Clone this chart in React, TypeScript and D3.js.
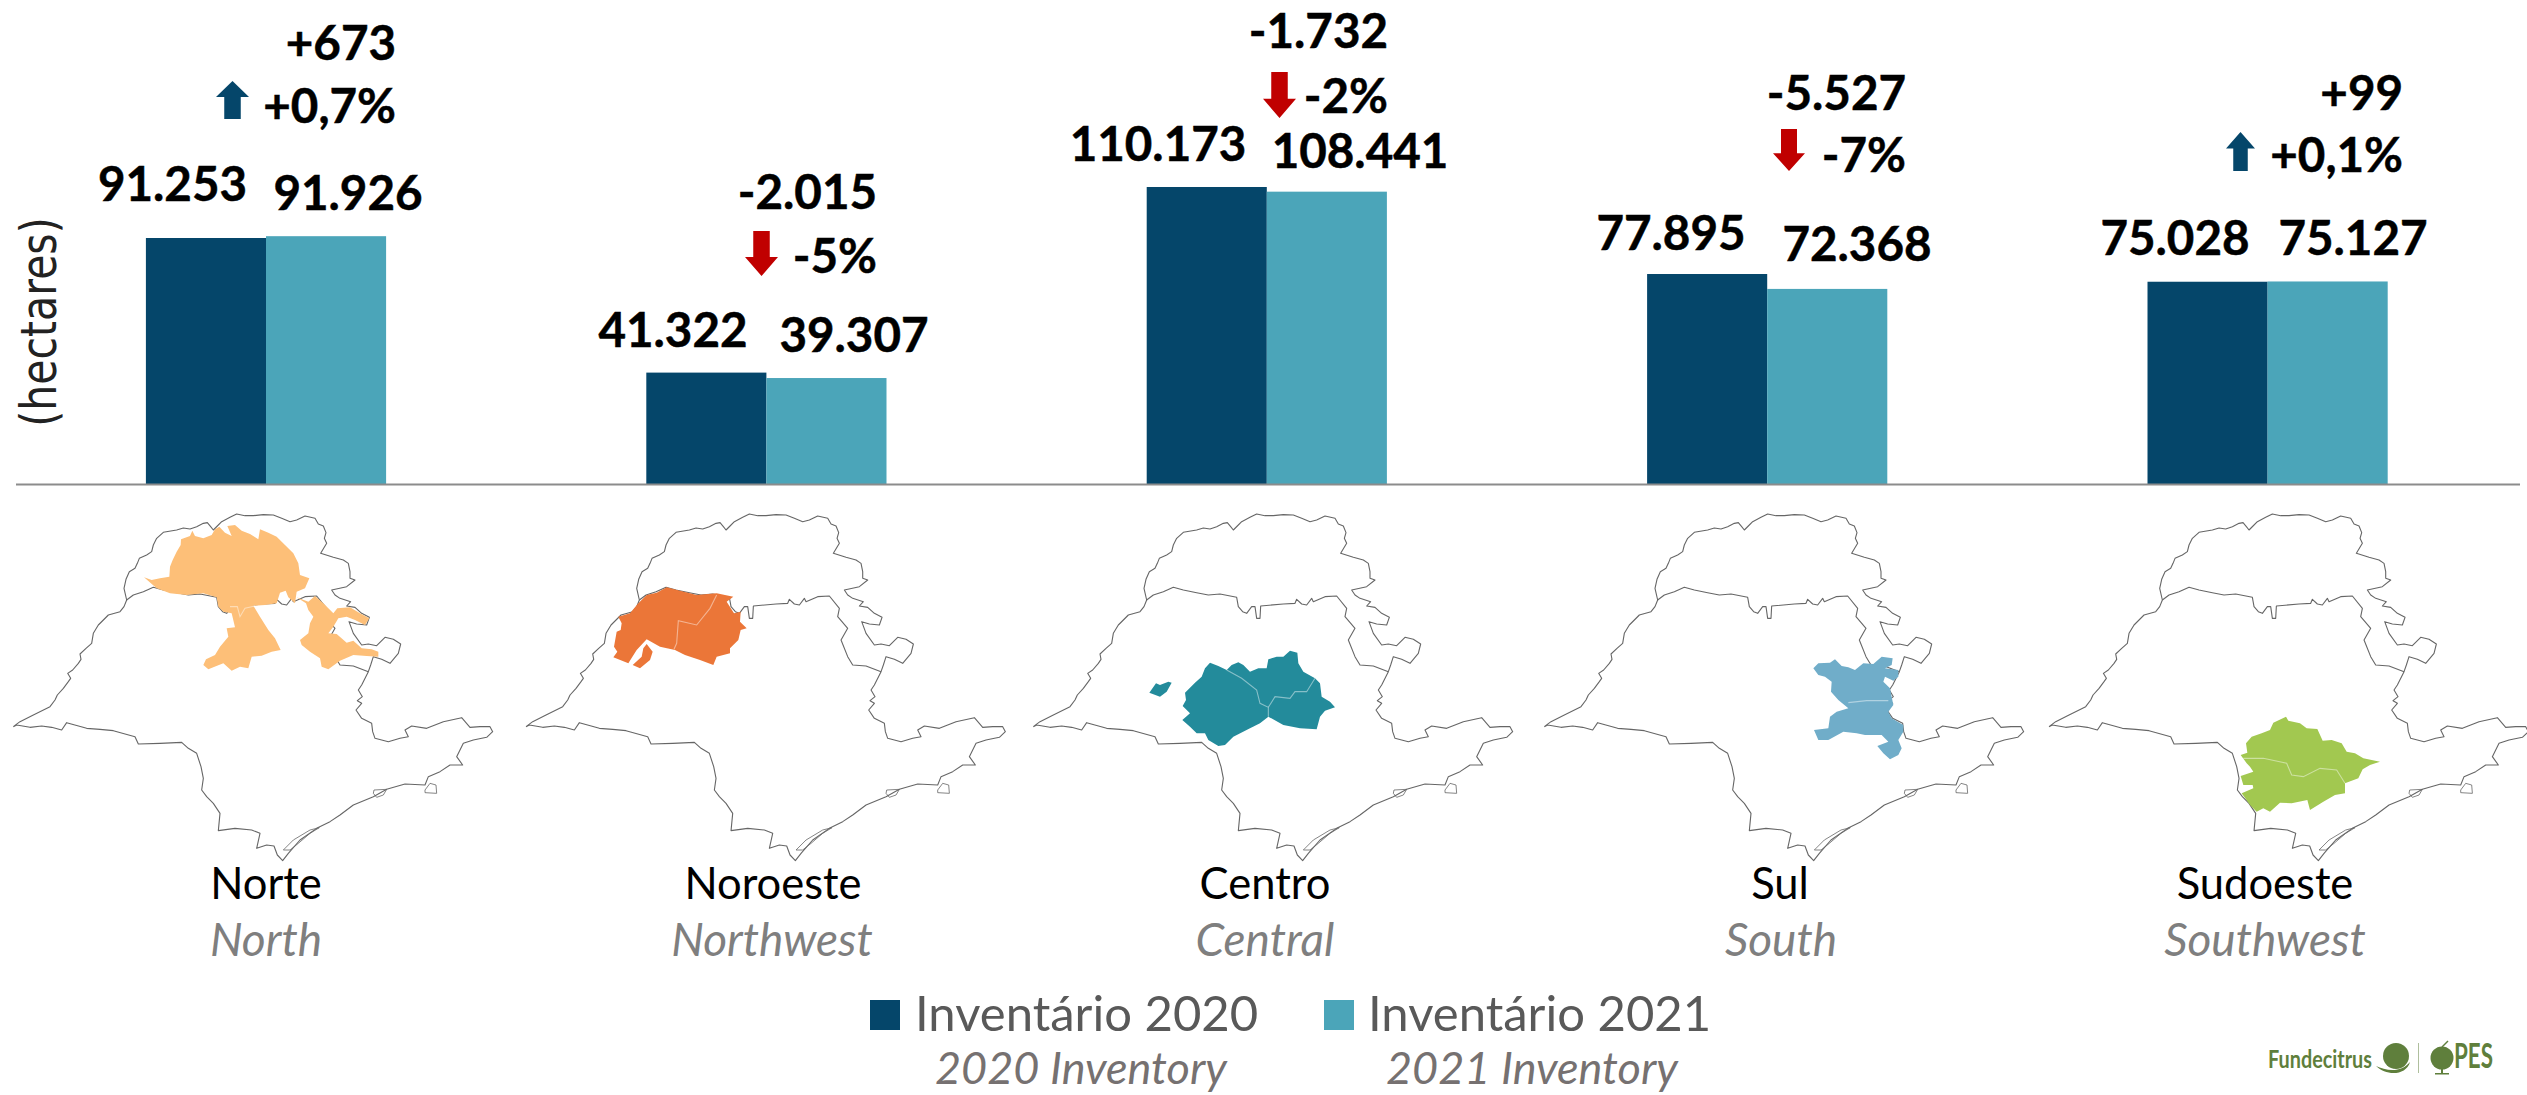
import React from "react";
import * as d3 from "d3";

type P = [number, number];

// ---- data ----
const categories = ["Norte", "Noroeste", "Centro", "Sul", "Sudoeste"];
const categoriesEn = ["North", "Northwest", "Central", "South", "Southwest"];
const inventory2020 = [91253, 41322, 110173, 77895, 75028];
const inventory2021 = [91926, 39307, 108441, 72368, 75127];
const deltaAbs = ["+673", "-2.015", "-1.732", "-5.527", "+99"];
const deltaPct = ["+0,7%", "-5%", "-2%", "-7%", "+0,1%"];
const legendPt = ["Inventário 2020", "Inventário 2021"];
const legendEn = ["2020 Inventory", "2021 Inventory"];
const regionColors = ["#FDBF78", "#EB7638", "#238B9B", "#70ADC9", "#A2C850"];

// Map geometry (units: 1/3 px of the panel)
const stateOutline: P[] = [
  [40,680],[60,665],[100,645],[150,620],[165,600],[172,585],[190,565],[205,545],[212,535],[203,520],[218,510],[235,490],[243,478],[240,462],[258,445],[275,430],[280,400],[295,375],[325,345],[360,335],[372,320],[380,300],[372,265],[378,238],[388,215],[405,205],[412,190],[418,175],[440,165],[455,155],[460,135],[470,115],[490,97],[530,90],[550,84],[570,87],[590,80],[610,70],[622,68],[632,80],[640,90],[652,78],[665,65],[690,52],[710,42],[735,47],[760,47],[790,44],[820,45],[845,55],[870,65],[890,60],[915,48],[945,55],[955,72],[970,78],[978,98],[973,115],[980,130],[962,160],[1000,172],[1030,180],[1045,190],[1050,215],[1050,235],[1065,240],[1040,260],[995,270],[1005,285],[1020,295],[1052,305],[1040,318],[1065,322],[1085,340],[1108,352],[1100,375],[1070,372],[1047,365],[1060,400],[1085,435],[1105,432],[1130,437],[1155,412],[1180,418],[1202,432],[1195,460],[1170,490],[1145,478],[1120,470],[1112,495],[1105,515],[1085,555],[1075,570],[1087,590],[1072,602],[1085,610],[1068,630],[1085,655],[1115,670],[1118,695],[1125,715],[1165,725],[1200,715],[1225,710],[1215,690],[1235,678],[1280,685],[1330,665],[1385,653],[1410,682],[1440,680],[1470,680],[1478,695],[1460,712],[1420,720],[1390,730],[1370,770],[1388,795],[1350,795],[1320,815],[1285,830],[1275,855],[1215,852],[1160,868],[1120,890],[1060,915],[1020,945],[990,965],[950,985],[900,1020],[865,1060],[848,1082],[832,1065],[822,1038],[800,1035],[770,1045],[780,1000],[755,990],[705,985],[655,992],[660,940],[640,910],[620,890],[605,870],[610,835],[603,800],[590,760],[565,745],[545,727],[480,730],[415,732],[405,710],[340,692],[300,688],[260,685],[200,668],[185,690],[155,682],[125,678],[90,682],[50,675],[40,680],
];
const northBoundary: P[] = [
  [380,300],[400,285],[430,275],[460,262],[490,270],[530,278],[565,285],[600,282],[650,292],[655,320],[668,335],[680,340],[695,320],[705,320],[710,355],[720,355],[722,318],[790,312],[825,310],[830,298],[845,312],[860,315],[875,295],[880,305],[915,290],[950,288],[980,325],[975,350],[1005,385],[985,420],[1005,470],[1020,495],[1060,498],[1105,515],
];
const coastDetails: P[][] = [
  [[850,1050],[880,1020],[930,990],[958,983],[930,1000],[895,1030],[870,1050],[850,1050]],
  [[1120,880],[1122,870],[1160,868],[1150,885],[1130,892],[1120,880]],
  [[1275,870],[1290,850],[1308,855],[1310,880],[1275,878],[1275,870]],
];
const norteMainCrop: P[] = [
  [72,202],[95,210],[120,205],[148,200],[150,170],[158,150],[170,125],[182,105],[183,88],[210,78],[217,62],[225,78],[250,85],[275,75],[285,58],[298,50],[315,68],[335,78],[322,48],[345,45],[365,62],[390,72],[415,88],[420,58],[445,68],[470,80],[495,105],[520,130],[535,160],[540,195],[568,205],[555,235],[530,245],[525,280],[505,262],[497,242],[480,248],[470,280],[435,285],[400,287],[420,320],[445,360],[465,385],[482,420],[455,425],[425,437],[395,440],[385,475],[360,470],[335,482],[310,460],[265,478],[250,465],[258,448],[285,435],[300,410],[325,380],[320,355],[345,352],[335,310],[310,305],[295,290],[290,262],[250,250],[200,255],[150,250],[110,235],
];
const norteEastCrop: P[] = [
  [530,262],[565,275],[585,258],[610,280],[640,310],[652,295],[690,292],[720,310],[748,325],[735,345],[705,330],[680,320],[655,325],[640,350],[625,370],[650,372],[680,398],[700,392],[725,415],[755,418],[775,425],[775,440],[740,438],[700,435],[660,452],[625,478],[605,470],[600,445],[570,425],[545,405],[540,390],[565,370],[570,340],[580,320],[565,300],[558,280],
];
const sulCrop: P[] = [
  [190,85],[205,70],[240,68],[255,58],[275,78],[295,82],[315,90],[340,70],[370,72],[395,50],[428,55],[425,75],[405,85],[445,90],[445,110],[430,122],[405,110],[400,125],[420,145],[425,170],[430,195],[415,215],[425,235],[460,255],[460,275],[445,300],[455,325],[445,345],[420,358],[400,340],[382,318],[415,305],[395,285],[345,285],[320,280],[280,275],[235,300],[205,300],[192,270],[235,265],[240,230],[260,215],[295,205],[265,180],[243,155],[245,125],[225,110],[205,105],
];
const shift = (pts: P[], dx: number, dy: number): P[] => pts.map(([x, y]) => [x + dx, y + dy]);
const regionNorte: P[][] = [shift(norteMainCrop, 360, 30), shift(norteEastCrop, 360, 30)];
const regionNoroeste: P[][] = [
  [[325,350],[360,340],[385,310],[410,285],[440,278],[470,262],[510,272],[560,285],[620,280],[670,290],[650,305],[672,340],[692,335],[690,365],[710,385],[692,390],[685,420],[660,445],[660,460],[620,470],[610,495],[570,480],[525,465],[495,450],[450,440],[410,418],[380,450],[355,490],[310,472],[322,455],[312,440],[320,395],[332,390],[335,370]],
  [[410,432],[428,455],[420,480],[390,505],[368,495],[395,470],[400,445]],
];
const regionCentro: P[][] = [
  [[388,578],[408,550],[420,555],[445,545],[455,548],[440,575],[420,590]],
  [[570,488],[595,498],[620,510],[635,495],[655,487],[670,495],[690,515],[715,505],[740,505],[745,478],[770,470],[790,470],[810,452],[832,458],[835,490],[850,515],[885,535],[900,550],[905,590],[930,605],[945,622],[915,632],[900,650],[890,688],[840,685],[790,675],[745,650],[720,670],[690,685],[640,710],[615,735],[595,738],[565,720],[555,700],[530,700],[510,680],[487,660],[510,640],[488,618],[498,600],[495,578],[525,548],[545,530],[555,505]],
];
const regionSul: P[][] = [shift(sulCrop, 660, 420)];
const regionSudoeste: P[][] = [
  [[768,650],[775,662],[810,670],[830,685],[862,687],[878,722],[905,720],[935,730],[950,755],[975,760],[1000,775],[1050,785],[1020,795],[998,808],[985,835],[945,850],[945,880],[915,885],[880,905],[840,930],[832,900],[785,910],[750,908],[720,935],[700,925],[680,935],[660,915],[635,880],[670,865],[668,855],[640,855],[632,828],[670,815],[660,800],[650,790],[632,765],[652,758],[648,730],[665,710],[695,700],[720,690],[730,668]],
];
const regionShapes = [regionNorte, regionNoroeste, regionCentro, regionSul, regionSudoeste];
const regionInner: P[][][] = [
  [[[690,320],[712,320],[720,350],[735,325],[765,318]]],
  [[[620,285],[600,325],[560,375],[505,362],[500,430],[492,448]]],
  [[[620,510],[665,535],[710,570],[720,610],[745,622],[745,650]], [[745,622],[765,590],[810,595],[825,575],[860,575],[885,535]]],
  [[[955,608],[1010,602],[1075,602]]],
  [[[640,775],[700,775],[770,790],[785,825],[820,830],[870,805],[920,810],[945,850]]],
];

// ---- layout ----
const W = 2527, H = 1095;
const BASE_Y = 484;
const C2020 = "#05466A", C2021 = "#4BA5B9";
const UP = C2020, DOWN = "#C00000";
const FONT = "Lato, 'Noto Sans', sans-serif";

const xBand = d3.scaleBand<string>().domain(categories).range([15.8, 2517.8]).paddingInner(0.52).paddingOuter(0.26);
const yScale = d3.scaleLinear().domain([0, 91253]).range([BASE_Y, 238]);
const mapScale = d3.scaleLinear().domain([0, 3]).range([0, 1]);
const mapLine = d3.line<P>().x((d) => mapScale(d[0])).y((d) => mapScale(d[1]));
const fmt = d3.formatLocale({ decimal: ",", thousands: ".", grouping: [3], currency: ["", ""] }).format(",d");

const outlineX = [0, 512.7, 1020, 1531, 2035.7];
const cropX = [0, 510, 1020, 1530, 2030];
const labelA: P[] = [[172.5,201],[673,347],[1158,161],[1671,250],[2175,255]];
const labelB: P[] = [[348,210],[854,352],[1360,168],[1857,261],[2353,255]];
const absLab: P[] = [[396,60],[877,209],[1388,48],[1906,110],[2403,110]];
const pctLab: P[] = [[396,123],[877,273],[1388,113],[1906,172],[2403,172]];
const arrowBox = [[216,81,249,119],[745,231,778,276],[1263,72,1296,118],[1773,129,1805,171],[2226,132,2255,171]];
const nameX = [266, 773, 1265, 1780, 2265];
const enX = [266, 772, 1265, 1781, 2265];
const legendSw = [870, 1324];
const legendTx = [915, 1368];
const legendEnTx = [935, 1386];

function arrowPath([x0, y0, x1, y1]: number[], up: boolean) {
  const p = d3.path();
  const w = x1 - x0, h = y1 - y0, cx = (x0 + x1) / 2, hs = w * 0.25, hh = h * 0.42;
  if (up) {
    p.moveTo(cx, y0); p.lineTo(x1, y0 + hh); p.lineTo(cx + hs, y0 + hh); p.lineTo(cx + hs, y1);
    p.lineTo(cx - hs, y1); p.lineTo(cx - hs, y0 + hh); p.lineTo(x0, y0 + hh);
  } else {
    p.moveTo(cx, y1); p.lineTo(x1, y1 - hh); p.lineTo(cx + hs, y1 - hh); p.lineTo(cx + hs, y0);
    p.lineTo(cx - hs, y0); p.lineTo(cx - hs, y1 - hh); p.lineTo(x0, y1 - hh);
  }
  p.closePath();
  return p.toString();
}

export default function App() {
  const bw = xBand.bandwidth() / 2;
  return (
    <svg width={W} height={H} viewBox={`0 0 ${W} ${H}`} style={{ position: "fixed", left: 0, top: 0, background: "#fff", display: "block" }} fontFamily={FONT}>
      <text transform="translate(56,322) rotate(-90) scale(1,1.22)" textAnchor="middle" fontFamily="'DejaVu Sans'" fontSize={41} fill="#222">(hectares)</text>

      {categories.map((c, i) => {
        const x = xBand(c)!;
        return (
          <g key={c}>
            <rect x={x} y={yScale(inventory2020[i])} width={bw} height={BASE_Y - yScale(inventory2020[i])} fill={C2020} />
            <rect x={x + bw} y={yScale(inventory2021[i])} width={bw} height={BASE_Y - yScale(inventory2021[i])} fill={C2021} />
            <g fontSize={47.5} fontWeight={700} fill="#000" stroke="#000" strokeWidth={0.5}>
              <text x={labelA[i][0]} y={labelA[i][1]} textAnchor="middle">{fmt(inventory2020[i])}</text>
              <text x={labelB[i][0]} y={labelB[i][1]} textAnchor="middle">{fmt(inventory2021[i])}</text>
              <text x={absLab[i][0]} y={absLab[i][1]} textAnchor="end">{deltaAbs[i]}</text>
              <text x={pctLab[i][0]} y={pctLab[i][1]} textAnchor="end">{deltaPct[i]}</text>
            </g>
            <path d={arrowPath(arrowBox[i], deltaAbs[i][0] === "+")} fill={deltaAbs[i][0] === "+" ? UP : DOWN} />
          </g>
        );
      })}
      <line x1={16} x2={2520} y1={BASE_Y + 0.5} y2={BASE_Y + 0.5} stroke="#8c8c8c" strokeWidth={2} />

      {categories.map((c, i) => (
        <g key={c}>
          <g transform={`translate(${outlineX[i]},500)`} fill="none" stroke="#666" strokeWidth={1.1} strokeLinejoin="round">
            <path d={mapLine(stateOutline)!} />
            <path d={mapLine(northBoundary)!} />
            {coastDetails.map((d, k) => <path key={k} d={mapLine(d)!} strokeWidth={0.8} />)}
          </g>
          <g transform={`translate(${cropX[i]},500)`}>
            {regionShapes[i].map((d, k) => <path key={k} d={mapLine(d)! + "Z"} fill={regionColors[i]} />)}
            {regionInner[i].map((d, k) => <path key={k} d={mapLine(d)!} fill="none" stroke="#fff" strokeOpacity={0.45} strokeWidth={1.1} />)}
          </g>
          <text x={nameX[i]} y={899} textAnchor="middle" fontSize={43.5} fill="#000">{c}</text>
          <text x={enX[i]} y={956} textAnchor="middle" fontSize={46} fontStyle="italic" fill="#7f7f7f">{categoriesEn[i]}</text>
        </g>
      ))}

      {legendPt.map((t, i) => (
        <g key={t}>
          <rect x={legendSw[i]} y={1000} width={30} height={30} fill={i === 0 ? C2020 : C2021} />
          <text x={legendTx[i]} y={1031} fontSize={49} fill="#595959">{t}</text>
          <text x={legendEnTx[i]} y={1084} fontSize={45} fontStyle="italic" fill="#767171">{legendEn[i]}</text>
        </g>
      ))}

      <g fill="#5F7F3C">
        <text x={2268} y={1068} fontSize={25} fontWeight={700} textLength={104} lengthAdjust="spacingAndGlyphs">Fundecitrus</text>
        <circle cx={2396} cy={1056} r={13} />
        <path d="M2376,1066 C2385,1070 2400,1074 2410,1062 C2406,1076 2386,1076 2376,1066Z" />
        <rect x={2418} y={1043} width={1} height={30} opacity={0.5} />
        <circle cx={2442} cy={1058} r={11.5} />
        <path d="M2442,1047 L2448,1041" stroke="#5F7F3C" strokeWidth={1.5} />
        <rect x={2441} y={1068} width={2} height={5} />
        <rect x={2435} y={1073} width={14} height={1.5} />
        <text x={2454} y={1068} fontSize={34} fontWeight={700} textLength={39} lengthAdjust="spacingAndGlyphs">PES</text>
      </g>
    </svg>
  );
}
